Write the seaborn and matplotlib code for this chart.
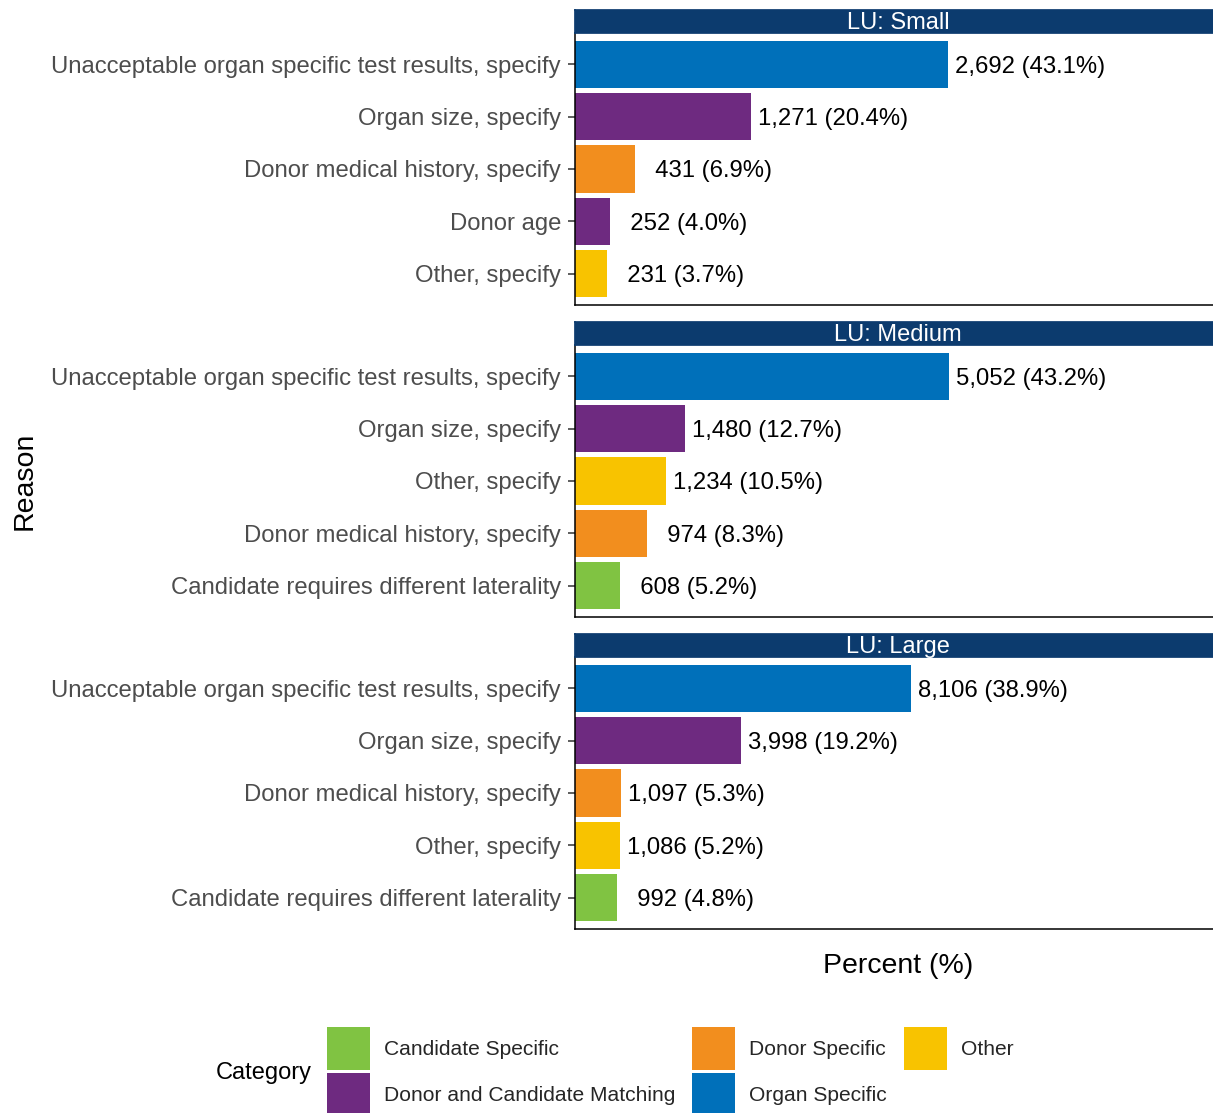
import matplotlib
matplotlib.use("Agg")
import matplotlib.pyplot as plt
import seaborn as sns
import pandas as pd
from matplotlib.patches import Patch

sns.set_theme(style="white")
plt.rcParams["font.family"] = ["Liberation Sans", "DejaVu Sans"]

# ---------------- data ----------------
panels = ["LU: Small", "LU: Medium", "LU: Large"]

small_reasons = ["Unacceptable organ specific test results, specify", "Organ size, specify",
                 "Donor medical history, specify", "Donor age", "Other, specify"]
small_counts = [2692, 1271, 431, 252, 231]
small_pcts = [43.1, 20.4, 6.9, 4.0, 3.7]
small_cats = ["Organ Specific", "Donor and Candidate Matching", "Donor Specific",
              "Donor and Candidate Matching", "Other"]

medium_reasons = ["Unacceptable organ specific test results, specify", "Organ size, specify",
                  "Other, specify", "Donor medical history, specify",
                  "Candidate requires different laterality"]
medium_counts = [5052, 1480, 1234, 974, 608]
medium_pcts = [43.2, 12.7, 10.5, 8.3, 5.2]
medium_cats = ["Organ Specific", "Donor and Candidate Matching", "Other", "Donor Specific",
               "Candidate Specific"]

large_reasons = ["Unacceptable organ specific test results, specify", "Organ size, specify",
                 "Donor medical history, specify", "Other, specify",
                 "Candidate requires different laterality"]
large_counts = [8106, 3998, 1097, 1086, 992]
large_pcts = [38.9, 19.2, 5.3, 5.2, 4.8]
large_cats = ["Organ Specific", "Donor and Candidate Matching", "Donor Specific", "Other",
              "Candidate Specific"]

categories = ["Candidate Specific", "Donor and Candidate Matching", "Donor Specific",
              "Organ Specific", "Other"]
colors = ["#80C342", "#6E2A80", "#F28E1E", "#0070BA", "#F8C300"]

rows = []
for p, rs, cs, ps, cats in [(panels[0], small_reasons, small_counts, small_pcts, small_cats),
                            (panels[1], medium_reasons, medium_counts, medium_pcts, medium_cats),
                            (panels[2], large_reasons, large_counts, large_pcts, large_cats)]:
    for r, c, pc, ct in zip(rs, cs, ps, cats):
        rows.append(dict(Panel=p, Reason=r, Count=c, Percent=pc, Category=ct))
df = pd.DataFrame(rows)
palette = dict(zip(categories, colors))

# ---------------- figure ----------------
W_PX, H_PX = 1213, 1113
fig = plt.figure(figsize=(W_PX / 100, H_PX / 100), dpi=100)

L = 575 / W_PX
W = 646 / W_PX
H = 272 / H_PX
panel_bottoms_px = [305, 617, 929]
strip_h = 23 / H_PX
FS = 17.2

for p, bpx in zip(panels, panel_bottoms_px):
    sub = df[df.Panel == p].reset_index(drop=True)
    ax = fig.add_axes([L, 1 - bpx / H_PX, W, H])
    sns.barplot(data=sub, x="Percent", y="Reason", hue="Category", hue_order=categories,
                order=sub.Reason.tolist(), palette=palette, dodge=False, width=0.9,
                saturation=1, errorbar=None, legend=False, linewidth=0, ax=ax)
    ax.set_xlim(0, 74.7)
    ax.set_ylim(4.6, -0.6)
    ax.set_xticks([])
    ax.set_xlabel("")
    ax.set_ylabel("")
    for s in ["top", "right"]:
        ax.spines[s].set_visible(False)
    for s in ["left", "bottom"]:
        ax.spines[s].set_visible(True)
        ax.spines[s].set_color("black")
        ax.spines[s].set_linewidth(1.1)
    ax.tick_params(axis="y", left=True, length=5, width=1.1, color="#333333",
                   labelsize=FS, labelcolor="#4D4D4D", pad=5)
    for j, r in sub.iterrows():
        lab = f"{r.Count:,}".rjust(5) + f" ({r.Percent:.1f}%)"
        ax.annotate(lab, xy=(r.Percent, j), xytext=(7, 0), textcoords="offset pixels",
                    ha="left", va="center_baseline", fontsize=FS, color="black")
    # strip
    sax = fig.add_axes([L, 1 - bpx / H_PX + H, W, strip_h])
    sax.set_facecolor("#0C3B6E")
    sax.set_xticks([])
    sax.set_yticks([])
    for s in sax.spines.values():
        s.set_color("#0C3B6E")
    sax.text(0.5, 0.45, p, transform=sax.transAxes, ha="center", va="center",
             color="white", fontsize=17)

# axis titles
fig.text(25 / W_PX, 1 - 481 / H_PX, "Reason", rotation=90, ha="center", va="center",
         fontsize=20.5, color="black")
fig.text(898 / W_PX, 1 - 966 / H_PX, "Percent (%)", ha="center", va="center",
         fontsize=20.5, color="black")

# legend
handles = [Patch(facecolor=palette[c], edgecolor="none", label=c) for c in categories]
fig.legend(handles=handles, loc="upper left", bbox_to_anchor=(327 / W_PX, 1 - 1027 / H_PX),
           bbox_transform=fig.transFigure, ncol=3, frameon=False, fontsize=15.1,
           handlelength=2.05, handleheight=2.78, handletextpad=0.67, columnspacing=0.8,
           labelspacing=0.15, borderpad=0, borderaxespad=0)
fig.text(216 / W_PX, 1 - 1073 / H_PX, "Category", ha="left", va="center", fontsize=17,
         color="black")

fig.savefig("out.png", dpi=100, facecolor="white")
